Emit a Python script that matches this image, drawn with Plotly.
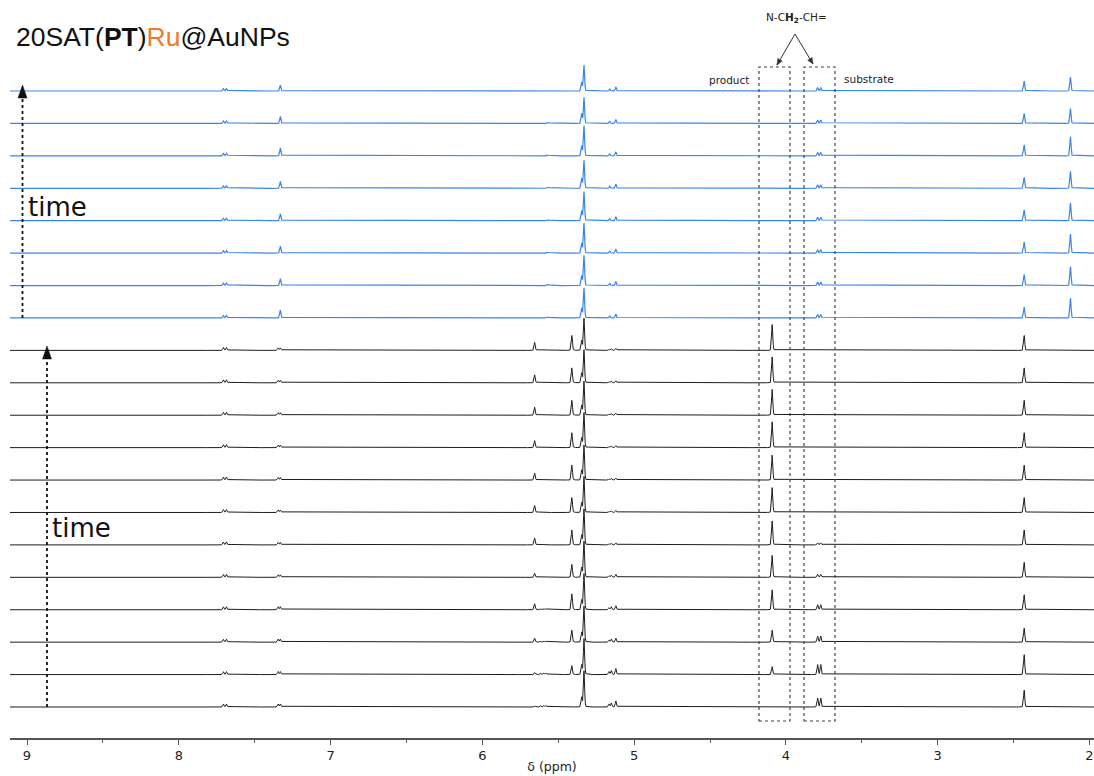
import numpy as np
import plotly.graph_objects as go

# ---------------------------------------------------------------------------
# Signal tables: chemical shift (ppm) and peak height (px) per spectrum.
# Index 0 is the earliest spectrum (bottom of each stack), time runs upward.
# ---------------------------------------------------------------------------

# black spectra (12 time points)
black_shifts = [7.705, 7.685, 7.345, 7.330, 5.655, 5.615, 5.595, 5.580,
                5.410, 5.345, 5.330, 5.165, 5.150, 5.120, 4.090, 3.790,
                3.770, 2.430]
black_heights = {
    7.705: [3, 3, 3, 3, 3, 3, 3, 3, 3, 3, 3, 3],
    7.685: [3, 3, 3, 3, 3, 3, 3, 3, 3, 3, 3, 3],
    7.345: [3, 3, 3, 3, 2.5, 2.5, 2.5, 2.5, 2.5, 2.5, 2.5, 2.5],
    7.330: [3, 3, 3, 3, 2.5, 2.5, 2.5, 2.5, 2.5, 2.5, 2.5, 2.5],
    5.655: [1, 2, 4, 6, 4, 7, 7, 7, 7, 8, 8, 8],
    5.615: [1.5, 1.5, 1, 1, 0.5, 0, 0, 0, 0, 0, 0, 0],
    5.595: [1.5, 1.5, 1, 1, 0.5, 0, 0, 0, 0, 0, 0, 0],
    5.580: [1.5, 1.5, 1, 1, 0.5, 0, 0, 0, 0, 0, 0, 0],
    5.410: [0, 9, 12, 16, 13, 15, 15, 15, 15, 15, 15, 15],
    5.345: [10, 10, 10, 10, 10, 10, 10, 10, 10, 10, 10, 10],
    5.330: [36, 36, 36, 36, 36, 36, 36, 35, 35, 34, 33, 32],
    5.165: [3, 3, 2, 2, 1.5, 1, 1, 1, 1, 1, 1, 1],
    5.150: [4, 4, 3, 3, 2, 1.5, 1.5, 1.5, 1.5, 1.5, 1.5, 1.5],
    5.120: [6, 6, 4, 4, 3, 2, 2, 2, 2, 2, 2, 2],
    4.090: [0, 8, 12, 20, 22, 24, 25, 25, 26, 26, 26, 26],
    3.790: [9, 10, 6, 5, 3, 2, 0, 0, 0, 0, 0, 0],
    3.770: [9, 10, 6, 5, 3, 2, 0, 0, 0, 0, 0, 0],
    2.430: [17, 20, 14, 15, 15, 15, 15, 15, 15, 15, 15, 15],
}

# blue spectra (8 time points)
blue_shifts = [7.705, 7.685, 7.330, 5.570, 5.345, 5.330, 5.160, 5.120,
               3.790, 3.770, 2.430, 2.125]
blue_heights = {
    7.705: [2.5, 2.5, 2.5, 2.5, 2.5, 2.5, 2.5, 2.5],
    7.685: [2.5, 2.5, 2.5, 2.5, 2.5, 2.5, 2.5, 2.5],
    7.330: [8, 7, 7, 7, 7, 8, 7, 6],
    5.570: [1, 1, 1, 1, 1, 1, 1, 0.5],
    5.345: [10, 10, 10, 10, 10, 10, 10, 9],
    5.330: [30, 30, 30, 29, 28, 30, 26, 26],
    5.160: [2, 2, 2, 2, 2, 2, 2, 2],
    5.120: [4, 4, 4, 4, 4, 4, 4, 4],
    3.790: [3.5, 3.5, 3.5, 3.5, 3.5, 3.5, 3.5, 3.5],
    3.770: [3.5, 3.5, 3.5, 3.5, 3.5, 3.5, 3.5, 3.5],
    2.430: [11, 11, 11, 11, 11, 11, 10, 10],
    2.125: [20, 19, 19, 18, 17, 19, 15, 14],
}

x_ticks = [9, 8, 7, 6, 5, 4, 3, 2]

# ---------------------------------------------------------------------------
# Layout geometry (pixel units on the y axis, ppm on the x axis)
# ---------------------------------------------------------------------------
W, H = 1094, 776
M_L, M_R, M_T, M_B = 10, 0, 0, 38
PLOT_H = H - M_T - M_B
X_LEFT, X_RIGHT = 9.112, 1.970
PX_PER_PPM = (W - M_L - M_R) / (X_LEFT - X_RIGHT)

BASE0 = 31.0          # baseline of the lowest spectrum above the axis
STEP = 32.42          # vertical offset between spectra
SIGMA = 0.0040        # Gaussian width of a line (ppm)
GAMMA = 0.0035        # Lorentzian half width (ppm)
ETA = 0.2             # Lorentzian fraction of the pseudo-Voigt shape

BLUE = "#3a86e8"
BLACK = "#1c1c1c"


def px_x(px):
    """Screen x pixel -> ppm."""
    return X_LEFT - (px - M_L) / PX_PER_PPM


def px_y(py):
    """Screen y pixel -> y-axis units."""
    return PLOT_H - (py - M_T)


def arrow_head(tip, tail, length, half_width, color):
    """Filled triangular arrow head (screen-pixel geometry) as a path shape."""
    tx, ty = tip
    dx, dy = tip[0] - tail[0], tip[1] - tail[1]
    n = (dx * dx + dy * dy) ** 0.5
    ux, uy = dx / n, dy / n
    bx, by = tx - ux * length, ty - uy * length
    p1 = (bx - uy * half_width, by + ux * half_width)
    p2 = (bx + uy * half_width, by - ux * half_width)
    pts = [(tx, ty), p1, p2]
    path = "M " + " L ".join(f"{px_x(a):.5f},{px_y(b):.3f}" for a, b in pts) + " Z"
    return dict(type="path", xref="x", yref="y", path=path,
                fillcolor=color, line=dict(color=color, width=0.5))


ppm = np.arange(X_RIGHT, X_LEFT + 0.001, 0.0012)


def spectrum(shifts, heights, k):
    y = np.zeros_like(ppm)
    for s in shifts:
        h = heights[s][k]
        if h:
            d = ppm - s
            g = np.exp(-0.5 * (d / SIGMA) ** 2)
            lor = 1.0 / (1.0 + (d / GAMMA) ** 2)
            y += h * ((1 - ETA) * g + ETA * lor)
    return y


fig = go.Figure()

n_black = len(next(iter(black_heights.values())))
n_blue = len(next(iter(blue_heights.values())))

# stack from the top down so lower spectra are drawn over upper ones
for k in reversed(range(n_blue)):
    base = BASE0 + (n_black + k) * STEP
    fig.add_trace(go.Scatter(
        x=ppm, y=base + spectrum(blue_shifts, blue_heights, k),
        mode="lines", line=dict(color=BLUE, width=1.2),
        hoverinfo="skip", showlegend=False))

for k in reversed(range(n_black)):
    base = BASE0 + k * STEP
    fig.add_trace(go.Scatter(
        x=ppm, y=base + spectrum(black_shifts, black_heights, k),
        mode="lines", line=dict(color=BLACK, width=1.0),
        hoverinfo="skip", showlegend=False))

shapes = []

# dotted boxes around the N-CH2-CH= signals
for x0, x1 in [(759, 790), (804, 835)]:
    shapes.append(dict(type="rect", xref="x", yref="y",
                       x0=px_x(x0), x1=px_x(x1), y0=px_y(721), y1=px_y(67),
                       line=dict(color="#444444", width=1.2, dash="dot")))

# dotted "time" arrows
for xa, y_tail, y_head in [(22.5, 318, 85), (47, 707, 346)]:
    shapes.append(dict(type="line", xref="x", yref="y",
                       x0=px_x(xa), x1=px_x(xa),
                       y0=px_y(y_tail), y1=px_y(y_head + 11),
                       line=dict(color="#111111", width=1.8, dash="dot")))
    shapes.append(arrow_head((xa, y_head), (xa, y_tail), 13, 4.5, "#111111"))

# arrows from the assignment label to both boxes
apex = (795, 34)
for tip in [(777, 65), (813, 64)]:
    shapes.append(dict(type="line", xref="x", yref="y",
                       x0=px_x(apex[0]), y0=px_y(apex[1]),
                       x1=px_x(tip[0]), y1=px_y(tip[1]),
                       line=dict(color="#333333", width=1.0)))
    shapes.append(arrow_head(tip, apex, 6, 2.6, "#333333"))

annotations = [
    dict(x=px_x(14), y=px_y(37), xref="x", yref="y", xanchor="left",
         yanchor="middle", showarrow=False,
         text="20SAT(<b>PT</b>)<span style='color:#ee7b2a'>Ru</span>@AuNPs",
         font=dict(family="Liberation Sans, Arial", size=26.5, color="#111111")),
    dict(x=px_x(26), y=px_y(207), xref="x", yref="y", xanchor="left",
         yanchor="middle", showarrow=False, text="time",
         font=dict(family="DejaVu Sans", size=26, color="#111111")),
    dict(x=px_x(50), y=px_y(528), xref="x", yref="y", xanchor="left",
         yanchor="middle", showarrow=False, text="time",
         font=dict(family="DejaVu Sans", size=26, color="#111111")),
    dict(x=px_x(796), y=px_y(18), xref="x", yref="y", xanchor="center",
         yanchor="middle", showarrow=False,
         text="N-C<b>H<sub>2</sub></b>-CH=",
         font=dict(family="DejaVu Sans", size=10.5, color="#222222")),
    dict(x=px_x(751), y=px_y(80), xref="x", yref="y", xanchor="right",
         yanchor="middle", showarrow=False, text="product",
         font=dict(family="DejaVu Sans", size=10.5, color="#222222")),
    dict(x=px_x(842), y=px_y(79), xref="x", yref="y", xanchor="left",
         yanchor="middle", showarrow=False, text="substrate",
         font=dict(family="DejaVu Sans", size=10.5, color="#222222")),
]

fig.update_layout(
    width=W, height=H,
    margin=dict(l=M_L, r=M_R, t=M_T, b=M_B, pad=0),
    paper_bgcolor="white", plot_bgcolor="white",
    shapes=shapes, annotations=annotations,
    xaxis=dict(
        range=[X_LEFT, X_RIGHT], showgrid=False, zeroline=False,
        showline=True, linecolor="#555555", linewidth=1.5,
        ticks="outside", ticklen=5, tickwidth=1.2, tickcolor="#555555",
        tickvals=x_ticks, ticktext=[str(t) for t in x_ticks],
        minor=dict(dtick=0.5, tick0=0, ticks="outside", ticklen=3,
                   tickwidth=1, tickcolor="#555555", showgrid=False),
        tickfont=dict(family="DejaVu Sans", size=13, color="#222222"),
        title=dict(text="δ (ppm)", standoff=0,
                   font=dict(family="DejaVu Sans", size=12.5, color="#222222")),
        automargin=False, fixedrange=True,
    ),
    yaxis=dict(range=[0, PLOT_H], visible=False, fixedrange=True),
)

fig.write_html("out.html")
